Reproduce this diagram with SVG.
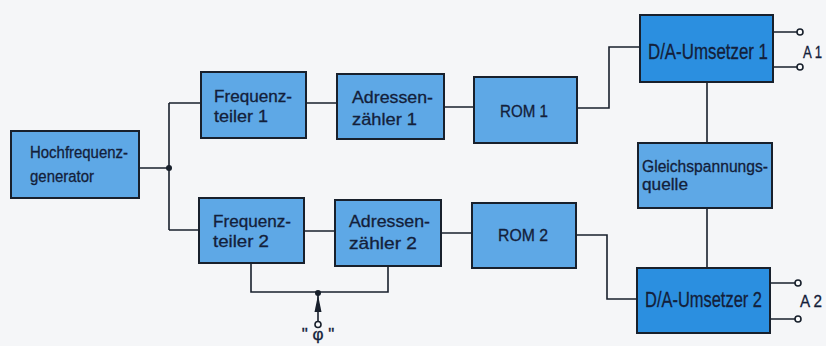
<svg xmlns="http://www.w3.org/2000/svg" width="826" height="346" viewBox="0 0 826 346">
<style>
.box{fill:#5ea8e6;stroke:#18202c;stroke-width:2}
.dk{fill:#2b8fe0;stroke:#18202c;stroke-width:2}
.ln{fill:none;stroke:#18202c;stroke-width:1.6}
.t{font-family:"Liberation Sans","DejaVu Sans",sans-serif;font-size:17px;fill:#13203a;stroke:#13203a;stroke-width:0.3}
.tb{font-family:"Liberation Sans","DejaVu Sans",sans-serif;font-size:22px;fill:#13203a;stroke:#13203a;stroke-width:0.3}
.term{fill:#fbfcfd;stroke:#18202c;stroke-width:1.6}
</style>
<rect width="826" height="346" fill="#f5f6f8"/>
<g id="connectors">
<path class="ln" d="M139,168 H169 M169,103 V230 M169,103 H201 M169,230 H199"/>
<path class="ln" d="M306,103 H337 M304,231 H335"/>
<path class="ln" d="M444,107 H474 M441,233 H472"/>
<path class="ln" d="M577,108 H609 V47 H640"/>
<path class="ln" d="M576,235 H607 V299 H637"/>
<path class="ln" d="M707,82 V143 M707,208 V268"/>
<path class="ln" d="M251,263 V292 H388 V266"/>
<path class="ln" d="M318,293 V321"/>
<polygon points="318,295 314.5,312 321.5,312" fill="#18202c"/>
<circle cx="318" cy="293" r="3" fill="#18202c"/>
<circle cx="169" cy="168" r="3" fill="#18202c"/>
<circle class="term" cx="318" cy="324.5" r="3"/>
<path class="ln" d="M773,32 H797 M773,67 H797 M770,283 H795 M770,319 H795"/>
<circle class="term" cx="800" cy="32" r="3"/>
<circle class="term" cx="800" cy="67" r="3"/>
<circle class="term" cx="798" cy="283" r="3"/>
<circle class="term" cx="798" cy="319" r="3"/>
</g>
<g id="hf">
<rect class="box" x="11" y="131" width="128" height="67"/>
<text class="t" x="30" y="158" textLength="98" lengthAdjust="spacingAndGlyphs">Hochfrequenz-</text>
<text class="t" x="30" y="182" textLength="64" lengthAdjust="spacingAndGlyphs">generator</text>
</g>
<g id="ft1">
<rect class="box" x="201" y="72" width="105" height="66"/>
<text class="t" x="214" y="102" textLength="78" lengthAdjust="spacingAndGlyphs">Frequenz-</text>
<text class="t" x="214" y="122" textLength="54" lengthAdjust="spacingAndGlyphs">teiler  1</text>
</g>
<g id="az1">
<rect class="box" x="337" y="74" width="107" height="65"/>
<text class="t" x="352" y="103" textLength="81" lengthAdjust="spacingAndGlyphs">Adressen-</text>
<text class="t" x="352" y="125" textLength="65" lengthAdjust="spacingAndGlyphs">zähler  1</text>
</g>
<g id="ft2">
<rect class="box" x="199" y="198" width="105" height="65"/>
<text class="t" x="213" y="227" textLength="78" lengthAdjust="spacingAndGlyphs">Frequenz-</text>
<text class="t" x="213" y="247" textLength="56" lengthAdjust="spacingAndGlyphs">teiler  2</text>
</g>
<g id="az2">
<rect class="box" x="335" y="200" width="106" height="66"/>
<text class="t" x="349" y="227" textLength="81" lengthAdjust="spacingAndGlyphs">Adressen-</text>
<text class="t" x="349" y="249" textLength="68" lengthAdjust="spacingAndGlyphs">zähler  2</text>
</g>
<g id="rom1">
<rect class="box" x="474" y="77" width="103" height="66"/>
<text class="t" x="500" y="117" font-size="18" textLength="48" lengthAdjust="spacingAndGlyphs">ROM  1</text>
</g>
<g id="rom2">
<rect class="box" x="472" y="203" width="104" height="65"/>
<text class="t" x="498" y="241" font-size="18" textLength="50" lengthAdjust="spacingAndGlyphs">ROM  2</text>
</g>
<g id="da1">
<rect class="dk" x="640" y="15" width="133" height="67"/>
<text class="tb" x="648" y="59" textLength="120" lengthAdjust="spacingAndGlyphs">D/A-Umsetzer 1</text>
</g>
<g id="gq">
<rect class="box" x="638" y="143" width="134" height="65"/>
<text class="t" x="642" y="172" textLength="126" lengthAdjust="spacingAndGlyphs">Gleichspannungs-</text>
<text class="t" x="642" y="190" textLength="46" lengthAdjust="spacingAndGlyphs">quelle</text>
</g>
<g id="da2">
<rect class="dk" x="637" y="268" width="133" height="65"/>
<text class="tb" x="645" y="307" textLength="117" lengthAdjust="spacingAndGlyphs">D/A-Umsetzer 2</text>
</g>
<g id="labels">
<text class="t" x="803" y="58" textLength="19" lengthAdjust="spacingAndGlyphs">A 1</text>
<text class="t" x="800" y="307" textLength="22" lengthAdjust="spacingAndGlyphs">A 2</text>
<text class="t" x="318" y="340" text-anchor="middle">"  φ  "</text>
</g>
</svg>
